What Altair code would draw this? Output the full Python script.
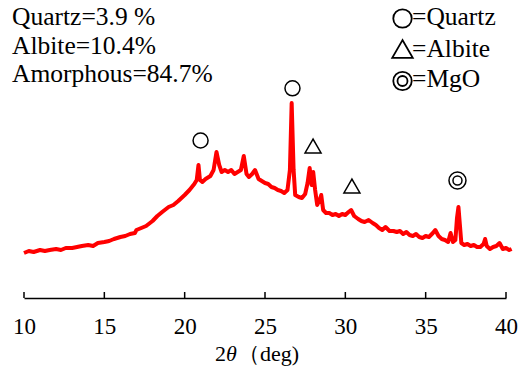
import altair as alt
import pandas as pd

# ---- data ----
two_theta = [10.0, 10.3, 10.6, 11.0, 11.3, 11.6, 12.0, 12.3, 12.6, 13.0, 13.3, 13.6, 14.0, 14.3, 14.6,
             15.0, 15.3, 15.6, 16.0, 16.3, 16.6, 16.9, 17.0, 17.3, 17.6, 18.0, 18.3, 18.6, 19.0, 19.3,
             19.6, 20.0, 20.3, 20.6, 20.75, 20.86, 20.95, 21.1, 21.3, 21.6, 21.8, 21.98, 22.15, 22.3,
             22.5, 22.7, 22.9, 23.1, 23.3, 23.5, 23.68, 23.85, 24.0, 24.2, 24.38, 24.6, 24.8, 25.0,
             25.2, 25.4, 25.6, 25.8, 26.0, 26.2, 26.4, 26.55, 26.66, 26.78, 26.88, 27.1, 27.3, 27.5,
             27.65, 27.78, 27.9, 28.0, 28.12, 28.25, 28.4, 28.5, 28.62, 28.8, 29.0, 29.2, 29.4, 29.6,
             29.8, 30.0, 30.2, 30.36, 30.55, 30.8, 31.0, 31.2, 31.45, 31.7, 31.9, 32.1, 32.3, 32.5,
             32.75, 33.0, 33.2, 33.4, 33.6, 33.8, 34.0, 34.2, 34.4, 34.6, 34.8, 35.0, 35.2, 35.45,
             35.6, 35.8, 36.0, 36.2, 36.4, 36.55, 36.7, 36.85, 36.95, 37.04, 37.13, 37.22, 37.4,
             37.6, 37.8, 38.0, 38.2, 38.4, 38.6, 38.7, 38.8, 39.0, 39.2, 39.4, 39.6, 39.8, 40.0,
             40.2, 40.35]
intensity = [45, 47, 46, 48, 47, 48, 49, 48, 50, 50, 51, 52, 53, 52, 55,
             56, 57, 59, 61, 62, 64, 65, 68, 70, 72, 77, 82, 86, 91, 93,
             97, 103, 108, 114, 118, 133, 118, 116, 119, 122, 128, 146, 133, 126,
             128, 126, 128, 124, 126, 128, 142, 124, 121, 124, 128, 119, 117, 115,
             114, 111, 110, 108, 107, 105, 108, 128, 195, 128, 103, 101, 100, 104,
             115, 130, 113, 126, 108, 93, 98, 103, 88, 85, 85, 83, 84, 82,
             84, 83, 86, 88, 82, 79, 77, 76, 78, 75, 73, 70, 68, 71,
             67, 67, 66, 67, 64, 66, 63, 62, 64, 61, 60, 62, 61, 65,
             68, 62, 59, 58, 56, 65, 56, 58, 80, 91, 73, 55, 53,
             54, 52, 53, 51, 51, 54, 59, 52, 49, 51, 52, 55, 49, 50,
             48, 49]

quartz_x = [20.99, 26.71]
quartz_y = [157.5, 209.7]
albite_x = [27.99, 30.41]
albite_y = [152, 112]
mgo_x = [36.98]
mgo_y = [117.5]

x_ticks = [10, 15, 20, 25, 30, 35, 40]
composition = ["Quartz=3.9 %", "Albite=10.4%", "Amorphous=84.7%"]
legend_labels = ["=Quartz", "=Albite", "=MgO"]

FONT = "Liberation Serif"
W, H = 482, 298

xs = alt.Scale(domain=[10, 40], nice=False, zero=False)
ys = alt.Scale(domain=[0, 298], nice=False, zero=False)

x_axis = alt.Axis(values=x_ticks, ticks=False, tickSize=0, grid=False, title=None,
                  labelFont=FONT, labelFontSize=23, labelColor="black",
                  labelBaseline="alphabetic", labelPadding=35,
                  domainColor="black", domainWidth=1.5, labelFlush=False)

curve_df = pd.DataFrame({"deg": two_theta, "I": intensity})

curve = alt.Chart(curve_df).mark_line(color="#ff0000", strokeWidth=4, strokeJoin="round").encode(
    x=alt.X("deg:Q", scale=xs, axis=x_axis),
    y=alt.Y("I:Q", scale=ys, axis=None),
)

ticks = alt.Chart(pd.DataFrame({"deg": x_ticks})).mark_rule(color="black", strokeWidth=1.5).encode(
    x=alt.X("deg:Q", scale=xs, axis=x_axis),
    y=alt.value(H - 6),
    y2=alt.value(H),
)

def markers(xv, yv, shape, size):
    return alt.Chart(pd.DataFrame({"deg": xv, "I": yv})).mark_point(
        shape=shape, size=size, filled=False, color="black", strokeWidth=1.5, opacity=1
    ).encode(
        x=alt.X("deg:Q", scale=xs, axis=x_axis),
        y=alt.Y("I:Q", scale=ys, axis=None),
    )

m_quartz = markers(quartz_x, quartz_y, "circle", 225)
m_albite = markers(albite_x, albite_y, "triangle-up", 256)
m_mgo_o = markers(mgo_x, mgo_y, "circle", 289)
m_mgo_i = markers(mgo_x, mgo_y, "circle", 81)

dummy = pd.DataFrame({"a": [0]})

def label(txt, px, py, size=25.5, style="normal"):
    return alt.Chart(dummy).mark_text(
        align="left", baseline="alphabetic", font=FONT, fontSize=size, fontStyle=style, color="black"
    ).encode(x=alt.value(px), y=alt.value(py), text=alt.value(txt))

comp_text = [label(t, -12, yy) for t, yy in zip(composition, [25, 53.5, 82])]

def sym(px, py, shape, size, sw=1.8):
    return alt.Chart(dummy).mark_point(shape=shape, size=size, filled=False, color="black",
                                       strokeWidth=sw, opacity=1).encode(
        x=alt.value(px), y=alt.value(py))

leg_syms = [
    sym(378.5, 18.5, "circle", 340),
    sym(378.5, 49, "triangle-up", 420),
    sym(378.5, 81, "circle", 340),
    sym(378.5, 81, "circle", 100),
]
leg_text = [label(lbl, 388, yy) for lbl, yy in zip(legend_labels, [25, 56.5, 87])]

title_parts = [
    label("2", 191, 361, 22),
    label("θ", 202, 361, 22, "italic"),
    label("（deg)", 214, 361, 22),
]

chart = alt.layer(
    curve, ticks, m_quartz, m_albite, m_mgo_o, m_mgo_i, *comp_text, *leg_syms, *leg_text, *title_parts
).properties(
    width=W, height=H,
    autosize=alt.AutoSizeParams(type="none"),
    padding={"left": 24, "top": 0, "right": 21, "bottom": 78},
    background="white",
).configure(font=FONT).configure_text(font=FONT).configure_view(stroke=None)

chart.save("out.html", embed_options={"renderer": "svg", "actions": False})
